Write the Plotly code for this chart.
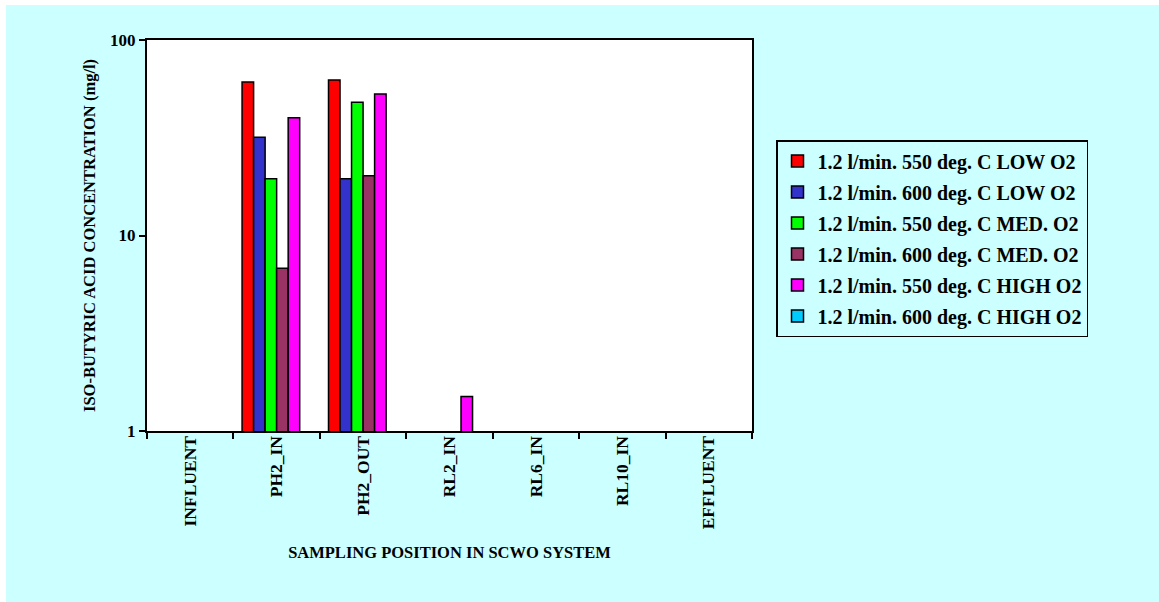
import plotly.graph_objects as go

# Sampling positions along the SCWO system
positions = ["INFLUENT", "PH2_IN", "PH2_OUT", "RL2_IN", "RL6_IN", "RL10_IN", "EFFLUENT"]

# Iso-butyric acid concentration (mg/l); None = not detected
low_550 = [None, 61.0, 62.5, None, None, None, None]
low_600 = [None, 31.8, 19.5, None, None, None, None]
med_550 = [None, 19.5, 48.0, None, None, None, None]
med_600 = [None, 6.8, 20.2, None, None, None, None]
high_550 = [None, 40.0, 53.0, 1.5, None, None, None]
high_600 = [None, None, None, None, None, None, None]

series_names = [
    "1.2 l/min. 550 deg. C LOW O2",
    "1.2 l/min. 600 deg. C LOW O2",
    "1.2 l/min. 550 deg. C MED. O2",
    "1.2 l/min. 600 deg. C MED. O2",
    "1.2 l/min. 550 deg. C HIGH O2",
    "1.2 l/min. 600 deg. C HIGH O2",
]
series_values = [low_550, low_600, med_550, med_600, high_550, high_600]
series_colors = ["#FF0000", "#3333CC", "#00FF00", "#993366", "#FF00FF", "#00CCFF"]

y_ticks = [1, 10, 100]
y_tick_text = ["1", "10", "100"]

FONT = "Liberation Serif, Times New Roman, serif"
BG = "#CCFFFF"

fig = go.Figure()
for i, (name, vals, col) in enumerate(zip(series_names, series_values, series_colors)):
    fig.add_trace(go.Bar(
        x=positions, y=vals, name=name,
        marker=dict(color=col, line=dict(color="black", width=1.5)),
        legendgroup=f"g{i}",
    ))

# plot area spans 147..752 px horizontally, 40..431 px vertically
L, R, T, B = 147, 407, 40, 171
W, H = 1159, 602
pw, ph = W - L - R, H - T - B

def px_x(p):
    return (p - L) / pw

def px_y(p):
    return (H - B - p) / ph

# thin white strip along the top and left edges of the page
shapes = [
    dict(type="rect", xref="paper", yref="paper", x0=px_x(0), x1=px_x(W),
         y0=px_y(5), y1=px_y(0), fillcolor="white", line_width=0, layer="below"),
    dict(type="rect", xref="paper", yref="paper", x0=px_x(0), x1=px_x(6),
         y0=px_y(H), y1=px_y(0), fillcolor="white", line_width=0, layer="below"),
]

fig.update_layout(
    width=W, height=H,
    margin=dict(l=L, r=R, t=T, b=B),
    paper_bgcolor=BG, plot_bgcolor="white",
    barmode="group", bargap=0.2, bargroupgap=0,
    font=dict(family=FONT, color="black"),
    shapes=shapes,
    showlegend=True,
    legend=dict(
        x=px_x(776), y=px_y(140), xanchor="left", yanchor="top",
        bgcolor=BG, bordercolor="black", borderwidth=1.5,
        font=dict(family=FONT, size=20, color="black", weight="bold"),
        traceorder="grouped", tracegroupgap=2,
        itemwidth=30,
    ),
    xaxis=dict(
        type="category",
        showline=True, linecolor="black", linewidth=2, mirror=True,
        ticks="outside", ticklen=6, tickcolor="black", tickwidth=2,
        tickson="boundaries",
        tickangle=-90,
        ticklabelstandoff=-4,
        tickfont=dict(family=FONT, size=17.5, weight="bold"),
        showgrid=False,
        title=dict(text="SAMPLING POSITION IN SCWO SYSTEM",
                   font=dict(family=FONT, size=16.5, weight="bold"), standoff=18),
        automargin=False,
    ),
    yaxis=dict(
        type="log", range=[0, 2],
        tickvals=y_ticks, ticktext=y_tick_text,
        showline=True, linecolor="black", linewidth=2, mirror=True,
        ticks="outside", ticklen=6, tickcolor="black", tickwidth=2,
        tickfont=dict(family=FONT, size=17, weight="bold"),
        showgrid=False, zeroline=False,
        title=dict(text="ISO-BUTYRIC ACID CONCENTRATION (mg/l)",
                   font=dict(family=FONT, size=16.5, weight="bold"), standoff=10),
        automargin=False,
    ),
)

fig.write_html("out.html")
